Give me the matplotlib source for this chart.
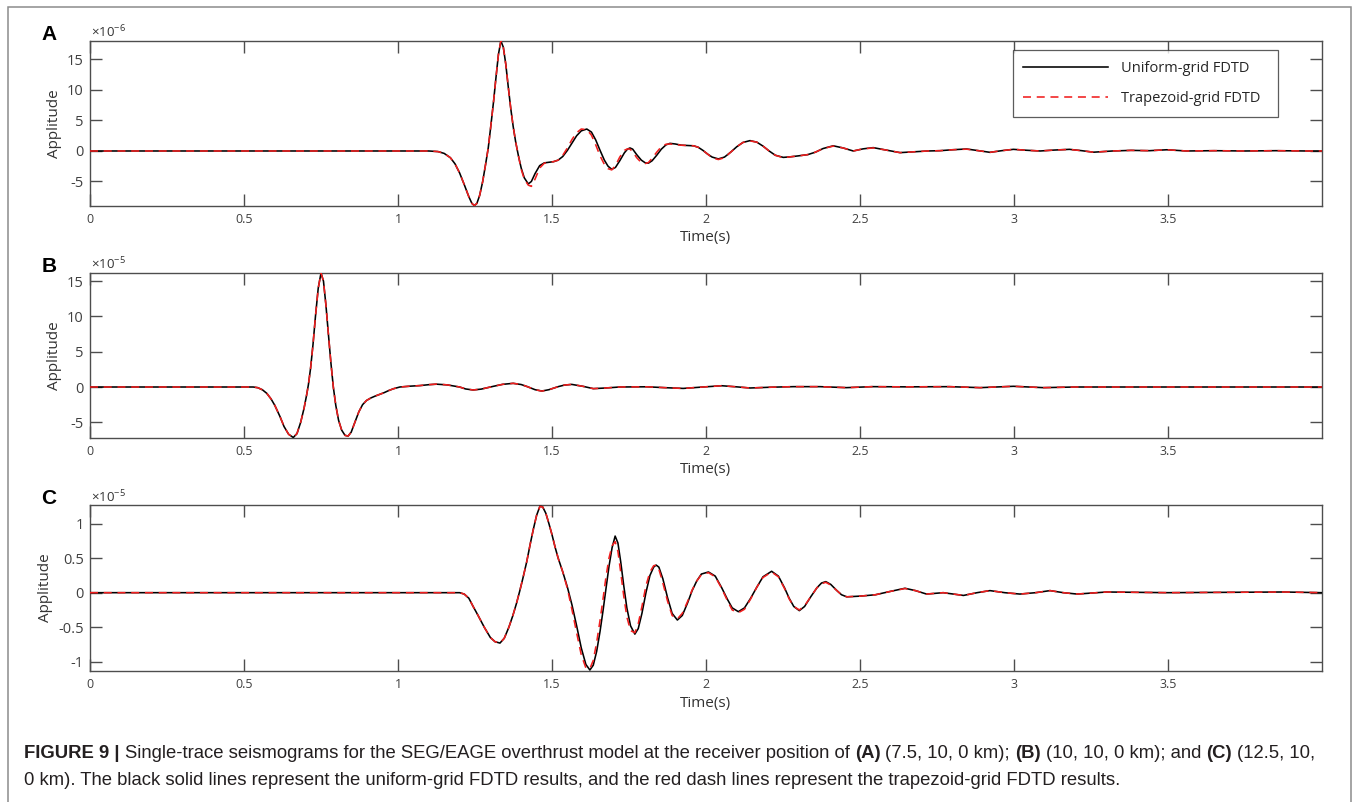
import matplotlib
matplotlib.use("Agg")
import matplotlib.pyplot as plt
from matplotlib.patches import Rectangle

plt.rcParams['font.family'] = ['Open Sans', 'DejaVu Sans']
plt.rcParams['axes.unicode_minus'] = False
plt.rcParams['mathtext.fontset'] = 'custom'
plt.rcParams['mathtext.rm'] = 'Open Sans'
plt.rcParams['mathtext.it'] = 'Open Sans:italic'

# ---------------- data ----------------
# Panel A  (amplitude in units of 1e-6)
t_A = [0.0, 1.10, 1.13, 1.15, 1.17, 1.185, 1.20, 1.215, 1.23, 1.24, 1.248, 1.256,
       1.265, 1.275, 1.285, 1.293, 1.30, 1.31, 1.318, 1.326, 1.334, 1.342, 1.35,
       1.358, 1.366, 1.374, 1.382, 1.391, 1.40, 1.41, 1.423, 1.433, 1.445, 1.46,
       1.475, 1.49, 1.505, 1.52, 1.535, 1.55, 1.565, 1.58, 1.595, 1.613, 1.628,
       1.642, 1.656, 1.67, 1.682, 1.694, 1.706, 1.72, 1.735, 1.745, 1.753, 1.762,
       1.775, 1.79, 1.803, 1.813, 1.825, 1.84, 1.855, 1.87, 1.883, 1.90, 1.92,
       1.94, 1.96, 1.975, 1.99, 2.005, 2.02, 2.04, 2.06, 2.08, 2.10, 2.12, 2.143,
       2.165, 2.185, 2.205, 2.225, 2.251, 2.275, 2.30, 2.33, 2.355, 2.38, 2.413,
       2.445, 2.478, 2.51, 2.543, 2.585, 2.63, 2.67, 2.72, 2.76, 2.80, 2.846,
       2.885, 2.922, 2.96, 2.998, 3.04, 3.085, 3.13, 3.18, 3.22, 3.258, 3.32,
       3.38, 3.44, 3.496, 3.56, 3.65, 3.75, 3.85, 3.95, 4.0]
uni_A = [0.0, 0.0, -0.1, -0.4, -1.1, -2.1, -3.6, -5.5, -7.5, -8.6, -8.95, -8.6,
         -7.3, -5.0, -2.0, 0.5, 3.5, 8.0, 12.0, 15.8, 18.05, 17.0, 14.2,
         10.5, 7.0, 4.0, 1.5, -0.8, -2.8, -4.4, -5.4, -5.0, -3.7, -2.4,
         -1.95, -1.85, -1.75, -1.5, -0.9, 0.1, 1.3, 2.5, 3.3, 3.6, 3.1,
         1.8, 0.1, -1.5, -2.5, -3.0, -2.7, -1.6, -0.3, 0.3, 0.5, 0.3,
         -0.6, -1.5, -1.95, -2.0, -1.6, -0.7, 0.3, 1.0, 1.25, 1.15, 0.95,
         0.9, 0.85, 0.6, 0.1, -0.5, -1.0, -1.3, -1.0, -0.2, 0.7, 1.4, 1.7,
         1.45, 0.8, 0.0, -0.7, -1.05, -0.95, -0.8, -0.6, -0.2, 0.4, 0.85,
         0.5, 0.0, 0.35, 0.55, 0.15, -0.27, -0.15, 0.0, 0.05, 0.2, 0.33,
         0.05, -0.22, 0.05, 0.27, 0.12, 0.0, 0.15, 0.27, 0.05, -0.2, 0.0,
         0.1, 0.05, 0.2, 0.0, 0.05, 0.0, 0.05, 0.0, 0.0]
trap_A = [0.0, 0.0, -0.1, -0.4, -1.1, -2.1, -3.6, -5.5, -7.5, -8.6, -8.95, -8.6,
          -7.3, -5.0, -2.0, 0.5, 3.5, 8.0, 12.0, 15.8, 18.05, 17.0, 14.2,
          10.5, 7.0, 4.0, 1.5, -0.8, -3.0, -4.6, -5.6, -5.8, -4.6, -2.8,
          -2.0, -1.85, -1.75, -1.5, -0.7, 0.5, 1.9, 3.0, 3.6, 3.5, 2.6,
          1.0, -0.8, -2.2, -2.9, -3.1, -2.4, -1.0, 0.1, 0.35, 0.3, -0.1,
          -1.1, -1.9, -2.05, -1.9, -1.2, -0.2, 0.7, 1.1, 1.15, 1.05, 0.95,
          0.9, 0.85, 0.6, 0.1, -0.5, -1.1, -1.4, -1.1, -0.2, 0.7, 1.4, 1.65,
          1.45, 0.8, 0.0, -0.7, -1.1, -0.95, -0.8, -0.6, -0.2, 0.4, 0.8,
          0.5, 0.0, 0.35, 0.5, 0.15, -0.27, -0.15, 0.0, 0.05, 0.2, 0.3,
          0.05, -0.22, 0.05, 0.27, 0.12, 0.0, 0.15, 0.25, 0.05, -0.2, 0.0,
          0.1, 0.05, 0.2, 0.0, 0.05, 0.0, 0.05, 0.0, 0.0]

# Panel B  (amplitude in units of 1e-5)
t_B = [0.0, 0.53, 0.545, 0.56, 0.574, 0.588, 0.60, 0.617, 0.63, 0.645, 0.66, 0.672,
       0.684, 0.695, 0.703, 0.709, 0.716, 0.724, 0.732, 0.741, 0.75, 0.758, 0.766,
       0.774, 0.782, 0.79, 0.798, 0.807, 0.817, 0.828, 0.838, 0.848, 0.86, 0.873,
       0.885, 0.898, 0.912, 0.925, 0.94, 0.955, 0.97, 0.985, 1.006, 1.04, 1.071,
       1.10, 1.126, 1.16, 1.20, 1.22, 1.244, 1.27, 1.31, 1.34, 1.374, 1.40, 1.42,
       1.445, 1.467, 1.49, 1.52, 1.54, 1.564, 1.60, 1.634, 1.67, 1.72, 1.808, 1.87,
       1.926, 1.99, 2.051, 2.10, 2.143, 2.21, 2.284, 2.37, 2.456, 2.54, 2.65, 2.79,
       2.89, 2.998, 3.095, 3.2, 4.0]
uni_B = [0.0, 0.0, -0.1, -0.4, -0.9, -1.7, -2.6, -4.2, -5.6, -6.7, -7.15, -6.6,
         -5.0, -3.0, -1.2, 0.3, 2.6, 6.0, 10.0, 14.0, 16.15, 15.0, 11.6,
         7.5, 3.5, 0.0, -2.6, -4.7, -6.1, -6.85, -6.95, -6.4, -5.0, -3.5,
         -2.5, -1.9, -1.55, -1.3, -1.05, -0.8, -0.5, -0.25, 0.0, 0.12, 0.2,
         0.33, 0.4, 0.3, 0.0, -0.28, -0.42, -0.3, 0.1, 0.38, 0.52, 0.35, 0.05,
         -0.38, -0.57, -0.38, 0.05, 0.27, 0.37, 0.1, -0.23, -0.15, 0.0, 0.03, -0.1,
         -0.2, 0.0, 0.18, 0.02, -0.14, -0.03, 0.05, 0.05, -0.09, 0.05, 0.02, 0.05,
         -0.09, 0.1, -0.09, 0.0, 0.0]
trap_B = [0.0, 0.0, -0.1, -0.4, -0.9, -1.7, -2.6, -4.2, -5.6, -6.7, -7.15, -6.6,
          -5.0, -3.0, -1.2, 0.3, 2.6, 6.0, 10.0, 14.0, 16.15, 15.0, 11.6,
          7.5, 3.5, 0.0, -2.6, -4.7, -6.1, -6.85, -6.95, -6.4, -5.0, -3.5,
          -2.5, -1.9, -1.55, -1.3, -1.05, -0.8, -0.5, -0.25, 0.0, 0.12, 0.2,
          0.33, 0.42, 0.3, 0.0, -0.28, -0.42, -0.3, 0.1, 0.38, 0.52, 0.35, 0.05,
          -0.38, -0.58, -0.38, 0.05, 0.27, 0.37, 0.1, -0.23, -0.15, 0.0, 0.03, -0.1,
          -0.2, 0.0, 0.18, 0.02, -0.14, -0.03, 0.05, 0.05, -0.09, 0.05, 0.02, 0.05,
          -0.09, 0.1, -0.09, 0.0, 0.0]

# Panel C  (amplitude in units of 1e-5)
t_C = [0.0, 1.20, 1.215, 1.23, 1.244, 1.26, 1.28, 1.30, 1.315, 1.331, 1.345, 1.36,
       1.373, 1.385, 1.395, 1.405, 1.418, 1.43, 1.44, 1.45, 1.461, 1.47, 1.48,
       1.49, 1.50, 1.51, 1.52, 1.535, 1.55, 1.565, 1.58, 1.595, 1.61, 1.623,
       1.634, 1.645, 1.656, 1.666, 1.675, 1.685, 1.695, 1.705, 1.714, 1.723,
       1.733, 1.743, 1.755, 1.769, 1.78, 1.792, 1.805, 1.818, 1.83, 1.838, 1.847,
       1.86, 1.875, 1.89, 1.907, 1.923, 1.94, 1.955, 1.97, 1.985, 2.008, 2.03,
       2.05, 2.07, 2.085, 2.105, 2.125, 2.145, 2.165, 2.185, 2.213, 2.235, 2.255,
       2.27, 2.285, 2.303, 2.32, 2.34, 2.36, 2.375, 2.389, 2.405, 2.425, 2.44,
       2.457, 2.50, 2.55, 2.60, 2.646, 2.68, 2.716, 2.77, 2.836, 2.88, 2.922,
       2.97, 3.019, 3.07, 3.117, 3.16, 3.205, 3.301, 3.5, 3.874, 4.0]
uni_C = [0.0, 0.0, -0.02, -0.08, -0.20, -0.33, -0.50, -0.65, -0.71, -0.73, -0.66, -0.50,
         -0.33, -0.15, 0.02, 0.20, 0.45, 0.72, 0.93, 1.12, 1.255, 1.24, 1.15,
         1.0, 0.84, 0.66, 0.50, 0.30, 0.08, -0.18, -0.48, -0.80, -1.04, -1.12,
         -1.05, -0.85, -0.56, -0.25, 0.05, 0.38, 0.65, 0.82, 0.72, 0.45,
         0.10, -0.22, -0.48, -0.60, -0.52, -0.30, 0.0, 0.25, 0.37, 0.40, 0.37,
         0.20, -0.07, -0.30, -0.396, -0.33, -0.15, 0.03, 0.17, 0.27, 0.30, 0.24,
         0.08, -0.10, -0.22, -0.275, -0.22, -0.08, 0.08, 0.23, 0.31, 0.24, 0.07,
         -0.08, -0.20, -0.26, -0.20, -0.06, 0.07, 0.14, 0.16, 0.12, 0.03, -0.03,
         -0.06, -0.05, -0.03, 0.02, 0.064, 0.03, -0.02, 0.0, -0.04, 0.0, 0.03,
         0.0, -0.02, 0.0, 0.03, 0.0, -0.02, 0.01, 0.0, 0.01, 0.0]
trap_C = [0.0, 0.0, -0.02, -0.08, -0.20, -0.33, -0.50, -0.65, -0.71, -0.73, -0.66, -0.50,
          -0.33, -0.15, 0.02, 0.20, 0.45, 0.72, 0.93, 1.12, 1.25, 1.24, 1.15,
          1.0, 0.84, 0.66, 0.50, 0.30, 0.06, -0.25, -0.58, -0.90, -1.09, -1.10,
          -0.98, -0.72, -0.40, -0.08, 0.22, 0.50, 0.68, 0.74, 0.60, 0.30,
          -0.05, -0.35, -0.55, -0.58, -0.45, -0.20, 0.10, 0.30, 0.39, 0.40, 0.34,
          0.14, -0.12, -0.33, -0.38, -0.30, -0.13, 0.04, 0.17, 0.26, 0.29, 0.23,
          0.07, -0.12, -0.25, -0.29, -0.24, -0.09, 0.08, 0.22, 0.30, 0.23, 0.06,
          -0.09, -0.20, -0.25, -0.19, -0.06, 0.07, 0.13, 0.15, 0.11, 0.03, -0.03,
          -0.06, -0.05, -0.03, 0.02, 0.06, 0.03, -0.02, 0.0, -0.04, 0.0, 0.03,
          0.0, -0.02, 0.0, 0.03, 0.0, -0.02, 0.01, 0.0, 0.01, 0.0]

x_ticks = [0, 0.5, 1, 1.5, 2, 2.5, 3, 3.5]
x_ticklabels = ['0', '0.5', '1', '1.5', '2', '2.5', '3', '3.5']
y_ticks_AB = [-5, 0, 5, 10, 15]
y_ticklabels_AB = ['-5', '0', '5', '10', '15']
y_ticks_C = [-1, -0.5, 0, 0.5, 1]
y_ticklabels_C = ['-1', '-0.5', '0', '0.5', '1']
series_labels = ['Uniform-grid FDTD', 'Trapezoid-grid FDTD']
panel_letters = ['A', 'B', 'C']
exponents = ['-6', '-5', '-5']

# ---------------- figure ----------------
W, H = 1356, 802
fig = plt.figure(figsize=(W / 100, H / 100), dpi=100)
fig.patch.set_facecolor('white')

def fx(px):
    return px / W

def fy(py):
    return 1 - py / H

# outer frame
fig.add_artist(Rectangle((fx(7.5), -0.02), fx(1351 - 7.5), fy(6.5) + 0.02,
                         transform=fig.transFigure, fill=False,
                         edgecolor='#8c8c8c', linewidth=1.1))

axes_px = [(40.7, 205.7), (272.7, 437.7), (505.0, 670.7)]
left_px, right_px = 90.0, 1321.7
ylims = [(-8.97, 18.08), (-7.18, 16.19), (-1.13, 1.27)]
data = [(t_A, uni_A, trap_A), (t_B, uni_B, trap_B), (t_C, uni_C, trap_C)]
ylab_x = [-0.0225, -0.0225, -0.030]

AXC = '#4d4d4d'
RED = '#f01e1e'

for i, ((top, bot), (t, u, r)) in enumerate(zip(axes_px, data)):
    ax = fig.add_axes([fx(left_px), fy(bot), fx(right_px - left_px), (bot - top) / H])
    l1, = ax.plot(t, u, color='black', lw=1.15, label=series_labels[0], zorder=3)
    l2, = ax.plot(t, r, color=RED, lw=1.15, ls=(0, (5, 3.6)), label=series_labels[1], zorder=4)
    ax.set_xlim(0, 3.999)
    ax.set_ylim(*ylims[i])
    ax.set_xticks(x_ticks)
    ax.set_xticklabels(x_ticklabels)
    if i < 2:
        ax.set_yticks(y_ticks_AB)
        ax.set_yticklabels(y_ticklabels_AB)
    else:
        ax.set_yticks(y_ticks_C)
        ax.set_yticklabels(y_ticklabels_C)
    ax.tick_params(axis='both', direction='in', top=True, right=True,
                   length=8.6, width=1.0, color=AXC)
    ax.tick_params(axis='x', labelsize=9, labelcolor='#404040', pad=5.5)
    ax.tick_params(axis='y', labelsize=10.5, labelcolor='#404040', pad=4.5)
    for sp in ax.spines.values():
        sp.set_color(AXC)
        sp.set_linewidth(1.0)
    ax.set_xlabel('Time(s)', fontsize=11, color='#333333')
    ax.xaxis.set_label_coords(0.5, -0.15)
    ax.set_ylabel('Applitude', fontsize=11, color='#333333')
    ax.yaxis.set_label_coords(ylab_x[i], 0.5)
    # exponent
    ax.annotate('×10$^{' + exponents[i] + '}$', xy=(0, 1), xycoords='axes fraction',
                xytext=(0.5, 2.2), textcoords='offset points', fontsize=9.5,
                color='#333333', ha='left', va='baseline')
    # panel letter
    fig.text(fx(49), fy(top - 6.5), panel_letters[i], fontsize=15, fontweight='bold',
             family='Liberation Sans', ha='center', va='center', color='black')
    if i == 0:
        leg = ax.legend(handles=[l1, l2], loc='upper left',
                        bbox_to_anchor=(0.749, 0.519, 0.2155, 0.4246), mode='expand',
                        borderaxespad=0, fontsize=10.5, frameon=True, fancybox=False,
                        handlelength=5.8, handletextpad=0.9, labelspacing=1.05,
                        borderpad=0.75)
        leg.get_frame().set_edgecolor('#333333')
        leg.get_frame().set_linewidth(0.9)
        for tx in leg.get_texts():
            tx.set_color('#262626')

# ---------------- caption ----------------
renderer = fig.canvas.get_renderer()
cap_fam = 'Liberation Sans'
line1 = [("FIGURE 9 |", 'bold', False),
         ("Single-trace seismograms for the SEG/EAGE overthrust model at the receiver position of", 'normal', True),
         ("(A)", 'bold', True), ("(7.5, 10, 0 km);", 'normal', True),
         ("(B)", 'bold', True), ("(10, 10, 0 km); and", 'normal', True),
         ("(C)", 'bold', True), ("(12.5, 10,", 'normal', True)]
line2 = [("0 km). The black solid lines represent the uniform-grid FDTD results, and the red dash lines represent the trapezoid-grid FDTD results.", 'normal', False)]

def width_of(s, size, weight):
    tt = fig.text(0, 0, s, fontsize=size, fontweight=weight, family=cap_fam)
    w = tt.get_window_extent(renderer).width
    tt.remove()
    return w

def line_width(pieces, size):
    sp = width_of('a a', size, 'normal') - width_of('aa', size, 'normal')
    w = 0
    for s, wt, lead in pieces:
        if lead:
            w += sp
        w += width_of(s, size, wt)
    return w

target = 1316 - 24
base = 12.0
cap_size = base * target / line_width(line1, base)

def draw_line(pieces, x0, ybase, size):
    sp = width_of('a a', size, 'normal') - width_of('aa', size, 'normal')
    x = x0
    for s, wt, lead in pieces:
        if lead:
            x += sp
        tt = fig.text(fx(x), fy(ybase), s, fontsize=size, fontweight=wt,
                      family=cap_fam, color='#231f20', ha='left', va='baseline')
        x += tt.get_window_extent(renderer).width

draw_line(line1, 24, 758, cap_size)
draw_line(line2, 24, 785, cap_size)

fig.savefig('out.png', dpi=100, facecolor='white')
